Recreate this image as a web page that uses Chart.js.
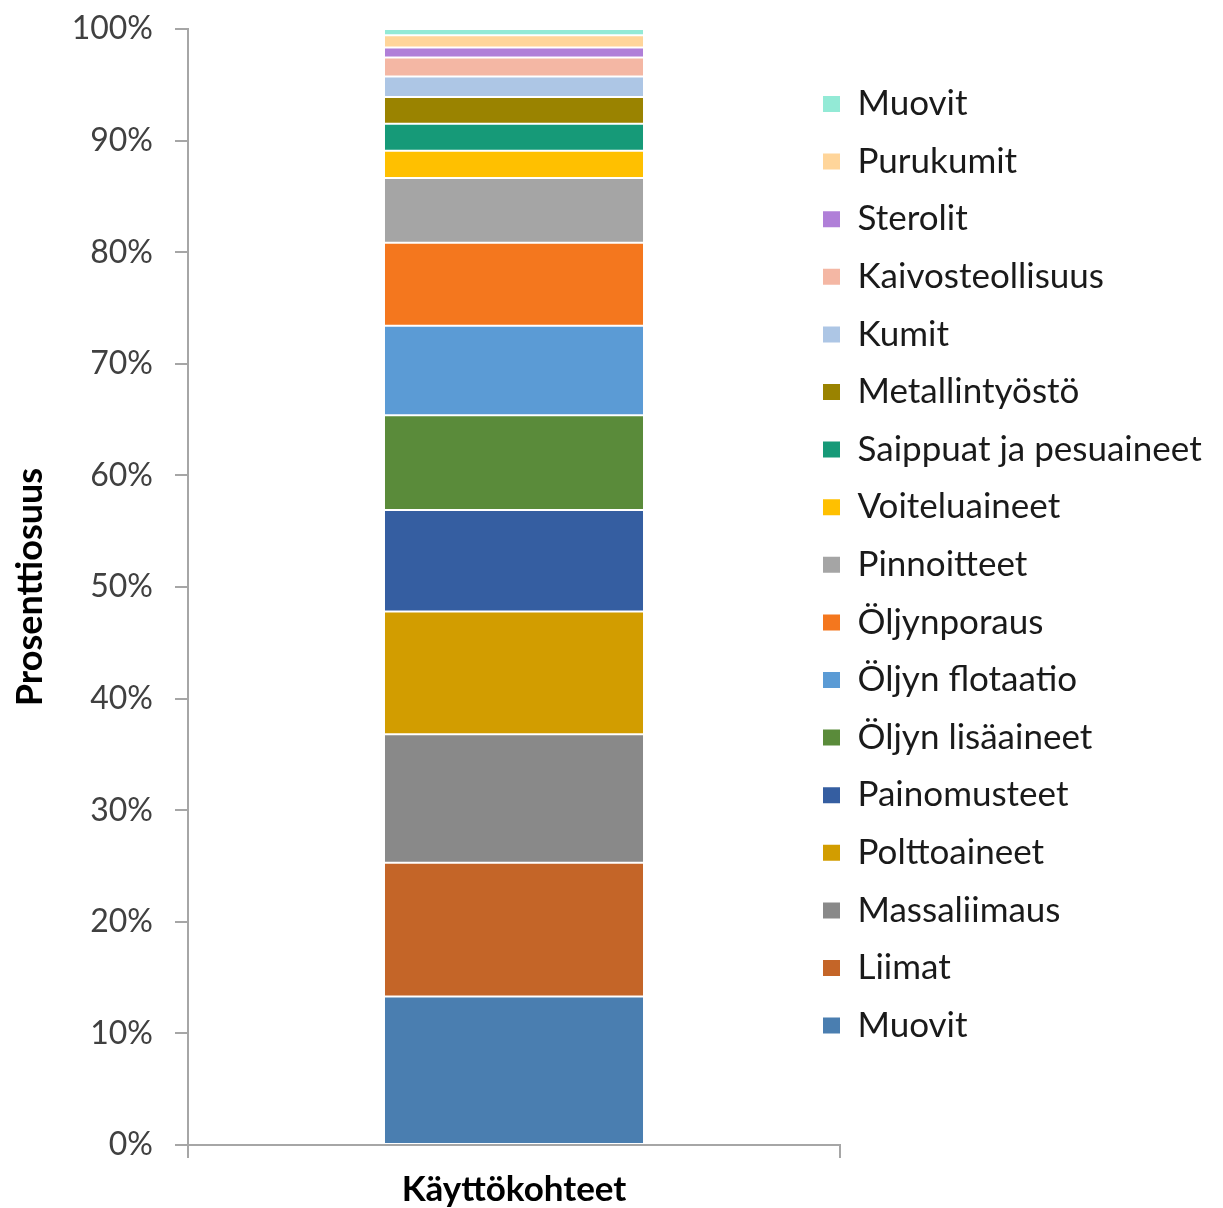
<!DOCTYPE html>
<html>
<head>
<meta charset="utf-8">
<script src="https://cdn.jsdelivr.net/npm/chart.js@4.4.1/dist/chart.umd.min.js"></script>
<style>
  html, body { margin: 0; padding: 0; background: #ffffff; }
  #wrap { width: 1223px; height: 1208px; position: relative; }
</style>
</head>
<body>
<div id="wrap"><canvas id="c" width="1223" height="1208"></canvas></div>
<script>
// ---- data (bottom to top of the stacked bar) ----
const categories = ['Käyttökohteet'];
const seriesNames = [
  'Muovit', 'Liimat', 'Massaliimaus', 'Polttoaineet', 'Painomusteet',
  'Öljyn lisäaineet', 'Öljyn flotaatio', 'Öljynporaus', 'Pinnoitteet',
  'Voiteluaineet', 'Saippuat ja pesuaineet', 'Metallintyöstö', 'Kumit',
  'Kaivosteollisuus', 'Sterolit', 'Purukumit', 'Muovit'
];
const seriesValues = [
  13.3, 12.0, 11.5, 11.0, 9.1,
  8.5, 8.0, 7.45, 5.8,
  2.45, 2.4, 2.4, 1.85,
  1.7, 0.9, 1.1, 0.55
];
const seriesColors = [
  '#4a7eb0', '#c46528', '#898989', '#d29d00', '#355ea1',
  '#5a8b3a', '#5b9bd5', '#f4771e', '#a5a5a5',
  '#ffc000', '#169a78', '#9a8300', '#adc6e5',
  '#f4b7a4', '#b07fd8', '#ffd59a', '#93ead6'
];
const yTickValues = [0, 10, 20, 30, 40, 50, 60, 70, 80, 90, 100];
const yTitle = 'Prosenttiosuus';

const datasets = seriesNames.map((name, i) => ({
  label: name,
  data: [seriesValues[i]],
  backgroundColor: seriesColors[i],
  borderColor: '#ffffff',
  borderWidth: { top: 1, bottom: 1, left: 0, right: 0 },
  borderSkipped: false,
  categoryPercentage: 1.0,
  barPercentage: 0.396
}));

const legendShift = {
  id: 'legendShift',
  afterLayout(chart) {
    const lg = chart.legend;
    const pad = lg.options.labels.padding;
    lg.left = 823 - pad;
    lg.right = 1223;
    lg.width = lg.right - lg.left;
    const itemH = lg.options.labels.font.size;
    lg.top = 104 - itemH / 2 - pad;
    lg.bottom = 1208;
    lg.height = lg.bottom - lg.top;
  }
};

new Chart(document.getElementById('c'), {
  type: 'bar',
  data: { labels: categories, datasets },
  plugins: [legendShift],
  options: {
    responsive: false,
    animation: false,
    devicePixelRatio: 1,
    layout: { autoPadding: false, padding: { top: 29, right: 0, bottom: 0, left: 0 } },
    plugins: {
      tooltip: { enabled: false },
      legend: {
        position: 'right',
        align: 'start',
        reverse: true,
        maxWidth: 383,
        labels: {
          boxWidth: 17,
          boxHeight: 16,
          padding: 22.6,
          color: '#1a1a1a',
          font: { family: 'Lato', size: 35 },
          generateLabels(chart) {
            const items = Chart.defaults.plugins.legend.labels.generateLabels(chart);
            items.forEach(it => { it.lineWidth = 0; it.strokeStyle = it.fillStyle; });
            return items;
          }
        }
      }
    },
    scales: {
      x: {
        stacked: true,
        offset: true,
        grid: {
          display: true,
          offset: true,
          drawOnChartArea: false,
          drawTicks: true,
          tickLength: 13,
          color: '#a6a6a6',
          lineWidth: 2
        },
        border: { display: true, color: '#a6a6a6', width: 2 },
        ticks: {
          color: '#000000',
          font: { family: 'Lato', size: 35, weight: 'bold' },
          padding: 11
        },
        afterFit(scale) { scale.height = 63; }
      },
      y: {
        stacked: true,
        min: 0,
        max: 100,
        afterBuildTicks(scale) { scale.ticks = yTickValues.map(v => ({ value: v })); },
        grid: {
          display: true,
          drawOnChartArea: false,
          drawTicks: true,
          tickLength: 13,
          color: '#a6a6a6',
          lineWidth: 2
        },
        border: { display: true, color: '#a6a6a6', width: 2 },
        ticks: {
          color: '#404040',
          font: { family: 'Lato', size: 32 },
          padding: 22,
          callback: v => v + '%'
        },
        title: {
          display: true,
          text: yTitle,
          color: '#000000',
          font: { family: 'Lato', size: 36, weight: 'bold' },
          padding: { top: 9, bottom: 0 }
        },
        afterFit(scale) {
          scale.width = 188;
          scale.paddingTop = 0;
          scale.paddingBottom = 0;
        }
      }
    }
  }
});
</script>
</body>
</html>
